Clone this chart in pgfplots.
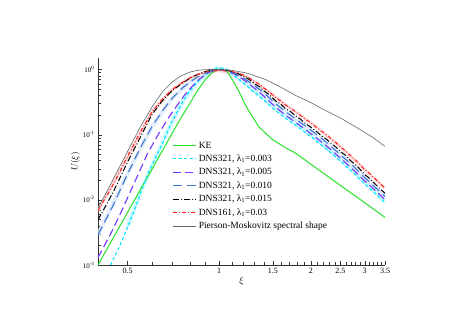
\documentclass[border=0pt]{standalone}
\usepackage{fontspec}
\setmainfont{Liberation Serif}
\usepackage{pgfplots}
\pgfplotsset{compat=1.18}
\usetikzlibrary{calc}
\definecolor{keGreen}{RGB}{40,225,40}
\definecolor{dnsCyan}{RGB}{0,230,255}
\definecolor{dnsPurple}{RGB}{115,55,255}
\definecolor{dnsBlue}{RGB}{60,120,210}
\definecolor{dnsRed}{RGB}{255,30,30}
\definecolor{pmGray}{RGB}{100,100,100}

\begin{document}
\begin{tikzpicture}
\begin{axis}[
    scale only axis,
    width=287pt, height=207pt,
    xmode=log, ymode=log,
    xmin=0.4, xmax=3.5,
    ymin=1e-3, ymax=1.5,
    axis x line*=bottom, axis y line*=left,
    axis line style={line width=0.6pt, black!80},
    tick align=inside,
    tick style={black!80},
    xtick={0.5,1,1.5,2,2.5,3,3.5},
    xticklabels={0.5,1,1.5,2,2.5,3,3.5},
    minor xtick={0.4,0.6,0.7,0.8,0.9,1.1,1.2,1.3,1.4,1.6,1.7,1.8,1.9,2.1,2.2,2.3,2.4,2.6,2.7,2.8,2.9,3.1,3.2,3.3,3.4},
    ytick={1e-3,1e-2,1e-1,1},
    yticklabels={10\textsuperscript{-3},10\textsuperscript{-2},10\textsuperscript{-1},10\textsuperscript{0}},
    x tick label style={font=\fontsize{8}{9}\selectfont},
    y tick label style={font=\fontsize{7}{8}\selectfont},
    xlabel={$\xi$},
    ylabel={$U(\xi)$},
    xlabel style={font=\fontsize{9}{10}\selectfont, yshift=4pt},
    ylabel style={font=\fontsize{9}{10}\selectfont, yshift=-4pt},
    legend style={at={(0.25,0.615)}, anchor=north west, draw=none, fill=none,
        font=\fontsize{9.5}{11}\selectfont, row sep=1.2pt},
    legend cell align=left,
    legend image code/.code={%
        \draw[mark repeat=2,mark phase=2,#1] plot coordinates {(0cm,0cm) (0.4cm,0cm) (0.8cm,0cm)};},
]
% light halos behind the DNS curves
\addplot[forget plot, line width=4pt, dnsCyan!25, opacity=0.8] coordinates {
(0.5,0.0038)(0.557,0.0145)(0.626,0.05)(0.7,0.16)(0.765,0.34)(0.847,0.64)(0.924,0.9)(0.99,1.06)(1.06,0.98)(1.2,0.64)(1.4,0.36)(1.65,0.19)(2.0,0.1)(2.5,0.042)(3.0,0.019)(3.5,0.0095)};
\addplot[forget plot, line width=4pt, dnsBlue!18, opacity=0.8] coordinates {
(0.4,0.0029)(0.5,0.025)(0.6,0.13)(0.7,0.36)(0.8,0.64)(0.9,0.88)(1.0,1.0)(1.2,0.74)(1.4,0.44)(1.65,0.225)(2.0,0.117)(2.5,0.049)(3.0,0.022)(3.5,0.0112)};
\addplot[forget plot, line width=3pt, dnsRed!20, opacity=0.8] coordinates {
(0.4,0.0068)(0.5,0.046)(0.6,0.22)(0.7,0.49)(0.8,0.74)(0.9,0.91)(1.0,0.96)(1.2,0.82)(1.4,0.52)(1.65,0.285)(2.0,0.152)(2.5,0.065)(3.0,0.029)(3.5,0.0151)};

% KE
\addplot[color=keGreen, line width=1pt] coordinates {
(0.40,0.0010)(0.45,0.00266)(0.5,0.0064)(0.55,0.0141)(0.6,0.0289)(0.65,0.0563)(0.7,0.104)(0.75,0.183)
(0.8,0.30)(0.85,0.48)(0.9,0.70)(0.95,0.90)(0.98,0.98)(1.0,1.0)(1.03,0.985)(1.062,0.93)(1.1,0.72)
(1.157,0.475)(1.2,0.33)(1.248,0.234)(1.3,0.175)(1.346,0.133)(1.42,0.105)(1.496,0.084)(1.57,0.073)
(1.65,0.063)(1.78,0.052)(2.0,0.0351)(2.5,0.0166)(3.0,0.00905)(3.5,0.00538)};
\addlegendentry{KE}

% DNS321, lambda 0.003
\addplot[color=dnsCyan, line width=1.1pt, dash pattern=on 3pt off 2.5pt] coordinates {
(0.44,0.001)(0.47,0.0019)(0.5,0.0038)(0.53,0.0075)(0.557,0.0145)(0.587,0.027)(0.626,0.05)(0.66,0.085)
(0.7,0.16)(0.765,0.34)(0.8,0.47)(0.847,0.64)(0.88,0.77)(0.924,0.9)(0.96,1.0)(0.99,1.06)(1.02,1.05)
(1.06,0.98)(1.1,0.86)(1.2,0.62)(1.316,0.43)(1.4,0.34)(1.53,0.235)(1.65,0.178)(1.78,0.14)(2.0,0.093)
(2.25,0.06)(2.5,0.039)(2.75,0.026)(3.0,0.0175)(3.25,0.0125)(3.5,0.009)};
\addlegendentry{DNS321, λ\textsubscript{1}=0.003}

% DNS321, lambda 0.005
\addplot[color=dnsPurple, line width=1.1pt, dash pattern=on 8pt off 4pt] coordinates {
(0.4,0.0013)(0.44,0.003)(0.475,0.0063)(0.52,0.016)(0.58,0.05)(0.63,0.1)(0.67,0.16)(0.71,0.24)
(0.765,0.39)(0.82,0.57)(0.87,0.74)(0.93,0.91)(0.98,0.99)(1.02,1.0)(1.1,0.9)(1.2,0.7)(1.316,0.5)
(1.4,0.39)(1.53,0.265)(1.65,0.198)(1.78,0.155)(2.0,0.103)(2.25,0.067)(2.5,0.0435)(2.75,0.029)
(3.0,0.0195)(3.25,0.014)(3.5,0.010)};
\addlegendentry{DNS321, λ\textsubscript{1}=0.005}

% DNS321, lambda 0.010
\addplot[color=dnsBlue, line width=1.1pt, dash pattern=on 9pt off 5pt] coordinates {
(0.4,0.0029)(0.45,0.0085)(0.5,0.025)(0.55,0.062)(0.6,0.13)(0.65,0.23)(0.7,0.36)(0.75,0.5)(0.8,0.64)
(0.85,0.77)(0.9,0.88)(0.95,0.96)(1.0,1.0)(1.1,0.92)(1.2,0.74)(1.316,0.55)(1.4,0.44)(1.53,0.3)
(1.65,0.225)(1.78,0.175)(2.0,0.117)(2.25,0.076)(2.5,0.049)(2.75,0.033)(3.0,0.022)(3.25,0.0156)(3.5,0.0112)};
\addlegendentry{DNS321, λ\textsubscript{1}=0.010}

% DNS321, lambda 0.015
\addplot[color=black, line width=1.0pt, dash pattern=on 6pt off 2pt on 1pt off 2pt] coordinates {
(0.4,0.0049)(0.45,0.0135)(0.5,0.038)(0.55,0.09)(0.6,0.2)(0.65,0.33)(0.7,0.47)(0.75,0.6)(0.8,0.73)
(0.85,0.84)(0.9,0.93)(0.95,0.98)(1.0,1.0)(1.05,0.985)(1.1,0.93)(1.15,0.87)(1.2,0.78)(1.25,0.71)
(1.316,0.59)(1.36,0.54)(1.4,0.47)(1.46,0.41)(1.53,0.33)(1.59,0.295)(1.65,0.25)(1.71,0.228)(1.78,0.195)
(1.85,0.172)(1.92,0.148)(2.0,0.13)(2.08,0.113)(2.16,0.097)(2.25,0.085)(2.35,0.071)(2.42,0.064)
(2.5,0.055)(2.6,0.048)(2.68,0.041)(2.75,0.037)(2.85,0.032)(2.92,0.0283)(3.0,0.0245)(3.1,0.0218)
(3.18,0.0192)(3.25,0.0175)(3.35,0.0152)(3.42,0.0139)(3.5,0.0126)};
\addlegendentry{DNS321, λ\textsubscript{1}=0.015}

% DNS161, lambda 0.03
\addplot[color=dnsRed, line width=1.0pt, dash pattern=on 4pt off 2pt on 1pt off 2pt] coordinates {
(0.4,0.0068)(0.45,0.0175)(0.5,0.046)(0.55,0.108)(0.6,0.22)(0.65,0.35)(0.7,0.49)(0.75,0.62)(0.8,0.74)
(0.85,0.84)(0.9,0.91)(0.95,0.95)(1.0,0.96)(1.05,0.955)(1.1,0.93)(1.15,0.89)(1.2,0.82)(1.25,0.75)
(1.316,0.64)(1.36,0.59)(1.4,0.52)(1.46,0.455)(1.53,0.37)(1.59,0.33)(1.65,0.285)(1.71,0.258)(1.78,0.225)
(1.85,0.196)(1.92,0.172)(2.0,0.152)(2.08,0.13)(2.16,0.114)(2.25,0.1)(2.35,0.083)(2.42,0.075)
(2.5,0.065)(2.6,0.056)(2.68,0.049)(2.75,0.044)(2.85,0.038)(2.92,0.0335)(3.0,0.029)(3.1,0.026)
(3.18,0.0228)(3.25,0.021)(3.35,0.0182)(3.42,0.0166)(3.5,0.0151)};
\addlegendentry{DNS161, λ\textsubscript{1}=0.03}

% Pierson-Moskowitz
\addplot[color=pmGray, line width=0.6pt] coordinates {
(0.40,0.0075)(0.43,0.014)(0.46,0.026)(0.5,0.055)(0.55,0.13)(0.6,0.26)(0.65,0.45)(0.7,0.64)(0.75,0.80)
(0.8,0.91)(0.85,0.97)(0.9,0.995)(0.95,1.0)(1.0,1.0)(1.1,0.97)(1.22,0.89)(1.3,0.81)(1.42,0.70)
(1.61,0.52)(1.78,0.40)(2.0,0.31)(2.2,0.243)(2.5,0.18)(2.84,0.127)(3.2,0.09)(3.5,0.066)};
\addlegendentry{Pierson-Moskovitz spectral shape}
\end{axis}
\path[use as bounding box] ($(current axis.south west)+(-98pt,-67pt)$) rectangle ($(current axis.north east)+(84pt,58pt)$);
\end{tikzpicture}
\end{document}
